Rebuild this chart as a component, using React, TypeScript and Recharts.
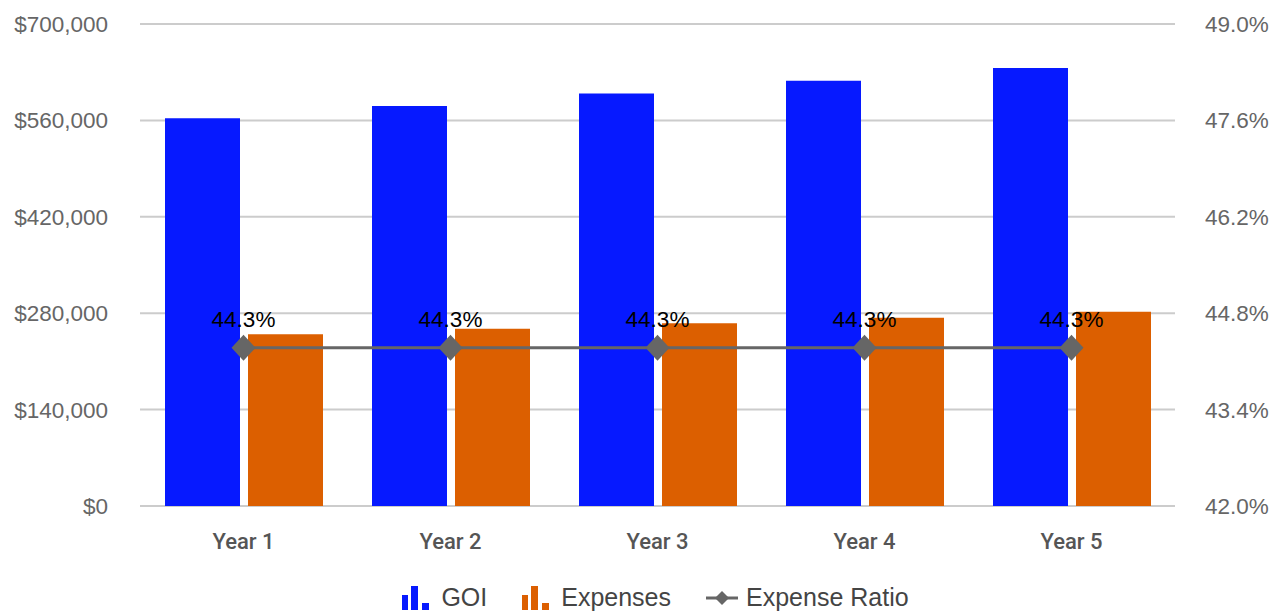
import React from "react";
import {
  ComposedChart,
  Bar,
  Line,
  XAxis,
  YAxis,
  CartesianGrid,
  Legend,
} from "recharts";

// values
const years = ["Year 1", "Year 2", "Year 3", "Year 4", "Year 5"];
const goi = [563000, 581000, 599000, 617500, 636000];
const expenses = [249400, 257400, 265400, 273500, 282000];
const expenseRatio = [44.3, 44.3, 44.3, 44.3, 44.3];

const leftTicks = [0, 140000, 280000, 420000, 560000, 700000];
const rightTicks = [42, 43.4, 44.8, 46.2, 47.6, 49];

const data = years.map((year, i) => ({
  year,
  goi: goi[i],
  expenses: expenses[i],
  ratio: expenseRatio[i],
}));

const FONT = "'Liberation Sans', Arial, Helvetica, sans-serif";
const BLUE = "#0619FF";
const ORANGE = "#DC5F00";
const GREY = "#666666";

const Diamond = (props: any) => {
  const { cx, cy } = props;
  if (cx == null || cy == null) return null;
  return (
    <polygon
      points={`${cx},${cy - 13} ${cx + 12},${cy} ${cx},${cy + 13} ${cx - 12},${cy}`}
      fill={GREY}
    />
  );
};

const BarsIcon = ({ color }: { color: string }) => (
  <svg width={28} height={24} style={{ display: "block" }}>
    <rect x={0} y={9} width={6} height={15} fill={color} />
    <rect x={9} y={0} width={7} height={24} fill={color} />
    <rect x={20} y={17} width={7} height={7} fill={color} />
  </svg>
);

const LineIcon = () => (
  <svg width={32} height={24} style={{ display: "block" }}>
    <line x1={0} y1={12} x2={32} y2={12} stroke={GREY} strokeWidth={3} />
    <polygon points="16,5 23,12 16,19 9,12" fill={GREY} />
  </svg>
);

const ChartLegend = () => {
  const item = (icon: React.ReactNode, label: string, gap: number, first = false) => (
    <div style={{ display: "flex", alignItems: "center", marginLeft: first ? 0 : 35 }}>
      {icon}
      <span style={{ marginLeft: gap }}>{label}</span>
    </div>
  );
  return (
    <div
      style={{
        display: "flex",
        justifyContent: "center",
        alignItems: "center",
        paddingLeft: 28,
        paddingTop: 17,
        fontFamily: FONT,
        fontSize: 25,
        color: "#444",
      }}
    >
      {item(<BarsIcon color={BLUE} />, "GOI", 11, true)}
      {item(<BarsIcon color={ORANGE} />, "Expenses", 11)}
      {item(<LineIcon />, "Expense Ratio", 8)}
    </div>
  );
};

export default function App() {
  return (
    <div style={{ position: "absolute", left: 0, top: 0, background: "#fff" }}>
      <ComposedChart
        width={1283}
        height={611}
        data={data}
        margin={{ top: 24, right: 0, bottom: 0, left: 0 }}
        barSize={75}
        barGap={8}
        style={{ fontFamily: FONT }}
      >
        <CartesianGrid vertical={false} stroke="#cccccc" strokeWidth={2} yAxisId="left" />
        <XAxis
          dataKey="year"
          axisLine={false}
          tickLine={false}
          tickSize={0}
          tickMargin={27}
          height={60}
          tick={{ fontSize: 22, fill: "#555", fontWeight: 500, fontFamily: "Roboto, 'Liberation Sans', sans-serif" }}
        />
        <YAxis
          yAxisId="left"
          domain={[0, 700000]}
          ticks={leftTicks}
          width={140}
          axisLine={false}
          tickLine={false}
          tickSize={0}
          tickMargin={32}
          tick={{ fontSize: 22.5, fill: "#666" }}
          tickFormatter={(v: number) => "$" + v.toLocaleString("en-US")}
        />
        <YAxis
          yAxisId="right"
          orientation="right"
          domain={[42, 49]}
          ticks={rightTicks}
          width={108}
          axisLine={false}
          tickLine={false}
          tickSize={0}
          tickMargin={30}
          tick={{ fontSize: 22.5, fill: "#666" }}
          tickFormatter={(v: number) => v.toFixed(1) + "%"}
        />
        <Legend verticalAlign="bottom" height={45} content={() => <ChartLegend />} />
        <Bar yAxisId="left" dataKey="goi" name="GOI" fill={BLUE} isAnimationActive={false} />
        <Bar
          yAxisId="left"
          dataKey="expenses"
          name="Expenses"
          fill={ORANGE}
          isAnimationActive={false}
        />
        <Line
          yAxisId="right"
          dataKey="ratio"
          name="Expense Ratio"
          stroke={GREY}
          strokeWidth={3}
          dot={<Diamond />}
          activeDot={false}
          isAnimationActive={false}
          label={{
            position: "top",
            offset: 21,
            fill: "#000",
            fontSize: 22.5,
            formatter: (v: number) => v.toFixed(1) + "%",
          }}
        />
      </ComposedChart>
    </div>
  );
}
